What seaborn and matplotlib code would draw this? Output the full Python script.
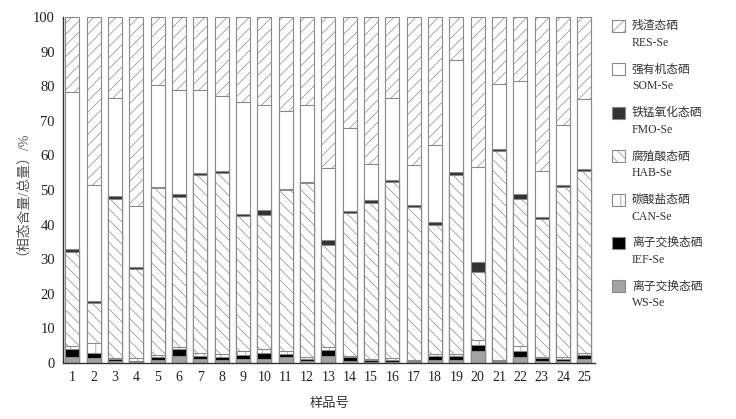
import numpy as np
import pandas as pd
import matplotlib
matplotlib.use("Agg")
import matplotlib.pyplot as plt
from matplotlib.patches import Rectangle
import seaborn as sns

# sample numbers
samples = [str(i) for i in range(1, 26)]

# phase contents (% of total Se)
ws = [1.8, 1.3, 0.4, 0.2, 0.9, 2.0, 1.0, 0.8, 1.1, 1.2, 1.6, 0.5, 2.0,
      0.6, 0.3, 0.3, 0.2, 0.8, 0.9, 3.3, 0.3, 1.8, 0.6, 0.5, 1.0]
ief = [2.2, 1.5, 0.6, 0.3, 0.9, 1.9, 1.0, 0.9, 1.1, 1.7, 0.9, 0.5, 1.6,
       1.0, 0.5, 0.6, 0.4, 1.1, 1.0, 1.8, 0.3, 1.7, 0.8, 0.7, 1.2]
can = [0.8, 2.9, 0.5, 0.8, 0.5, 0.6, 0.8, 0.9, 1.1, 1.0, 1.0, 0.6, 1.1,
       0.5, 0.3, 0.4, 0.3, 0.7, 0.7, 1.5, 0.3, 1.4, 0.4, 0.4, 0.6]
hab = [27.3, 11.5, 45.9, 25.9, 48.2, 43.4, 51.4, 52.4, 39.1, 38.8, 46.4, 50.3, 29.5,
       41.2, 45.2, 50.9, 44.1, 37.4, 51.8, 19.7, 60.3, 42.4, 39.8, 49.2, 52.8]
fmo = [0.9, 0.7, 0.8, 0.6, 0.5, 1.0, 0.6, 0.6, 0.7, 1.5, 0.4, 0.5, 1.4,
       0.6, 0.7, 0.8, 0.6, 0.7, 0.9, 2.8, 0.8, 1.6, 0.7, 0.7, 0.5]
som = [45.4, 33.5, 28.4, 17.5, 29.5, 29.9, 24.0, 21.5, 32.4, 30.5, 22.6, 22.1, 20.7,
       24.1, 10.5, 23.5, 11.5, 22.4, 32.2, 27.7, 18.8, 32.7, 13.1, 17.4, 20.2]
res = [21.6, 48.6, 23.4, 54.7, 19.5, 21.2, 21.2, 22.9, 24.5, 25.3, 27.1, 25.5, 43.7,
       32.0, 42.5, 23.5, 42.9, 36.9, 12.5, 43.2, 19.2, 18.4, 44.6, 31.1, 23.7]

names_cn = ["残渣态硒", "强有机态硒", "铁锰氧化态硒", "腐殖酸态硒",
            "碳酸盐态硒", "离子交换态硒", "离子交换态硒"]
names_en = ["RES-Se", "SOM-Se", "FMO-Se", "HAB-Se", "CAN-Se", "IEF-Se", "WS-Se"]

sns.set_style("white")
plt.rcParams["font.family"] = ["Liberation Serif", "Noto Sans CJK SC"]
plt.rcParams["hatch.linewidth"] = 0.5

# stacking order bottom -> top
df = pd.DataFrame({"sample": samples, "WS-Se": ws, "IEF-Se": ief, "CAN-Se": can,
                   "HAB-Se": hab, "FMO-Se": fmo, "SOM-Se": som, "RES-Se": res})
order = ["WS-Se", "IEF-Se", "CAN-Se", "HAB-Se", "FMO-Se", "SOM-Se", "RES-Se"]
cum = df[order].cumsum(axis=1)

styles = {
    "RES-Se": dict(color="white", hatch="///"),
    "SOM-Se": dict(color="white", hatch=""),
    "FMO-Se": dict(color="#333333", hatch=""),
    "HAB-Se": dict(color="white", hatch="\\\\\\"),
    "CAN-Se": dict(color="white", hatch="||"),
    "IEF-Se": dict(color="black", hatch=""),
    "WS-Se": dict(color="#a3a3a3", hatch=""),
}

fig = plt.figure(figsize=(7.36, 4.19), dpi=100)
ax = fig.add_axes([0.086, 0.134, 0.722, 0.825])

# draw cumulative bars from the top layer down so each covers the one below
for comp in order[::-1]:
    st = styles[comp]
    sns.barplot(x=df["sample"], y=cum[comp], order=samples, color=st["color"],
                hatch=st["hatch"], edgecolor="#8a8a8a", linewidth=0.8,
                width=0.66, saturation=1, ax=ax)

ax.set_ylim(0, 100)
ax.set_xlim(-0.42, 24.49)
ax.set_yticks(range(0, 101, 10))
ax.tick_params(axis="both", length=0, colors="#222222")
ax.tick_params(axis="x", labelsize=10, pad=6)
ax.tick_params(axis="y", labelsize=10.5, pad=6)
sns.despine(ax=ax)
for s in ["left", "bottom"]:
    ax.spines[s].set_color("#333333")
    ax.spines[s].set_linewidth(1.0)
ax.set_xlabel("样品号", fontsize=9.5, color="#333333", labelpad=10)
ax.set_ylabel("（相态含量/总量）/%", fontsize=10, color="#555555")
ax.yaxis.set_label_coords(-0.077, 0.5)

# legend on the right, built by hand (two-line labels)
W, H = 736, 419
for i, comp in enumerate(names_en):
    yc = 26 + i * 43.4
    st = styles[comp]
    fig.add_artist(Rectangle((612 / W, 1 - (yc + 6) / H), 13 / W, 12 / H,
                             transform=fig.transFigure, facecolor=st["color"],
                             hatch=st["hatch"], edgecolor="#8a8a8a", linewidth=0.8))
    fig.text(632 / W, 1 - yc / H, names_cn[i], fontsize=8.5, va="center",
             color="#333333")
    fig.text(632 / W, 1 - (yc + 17) / H, comp, fontsize=8.5, va="center",
             color="#333333")

fig.savefig("out.png", dpi=100)
